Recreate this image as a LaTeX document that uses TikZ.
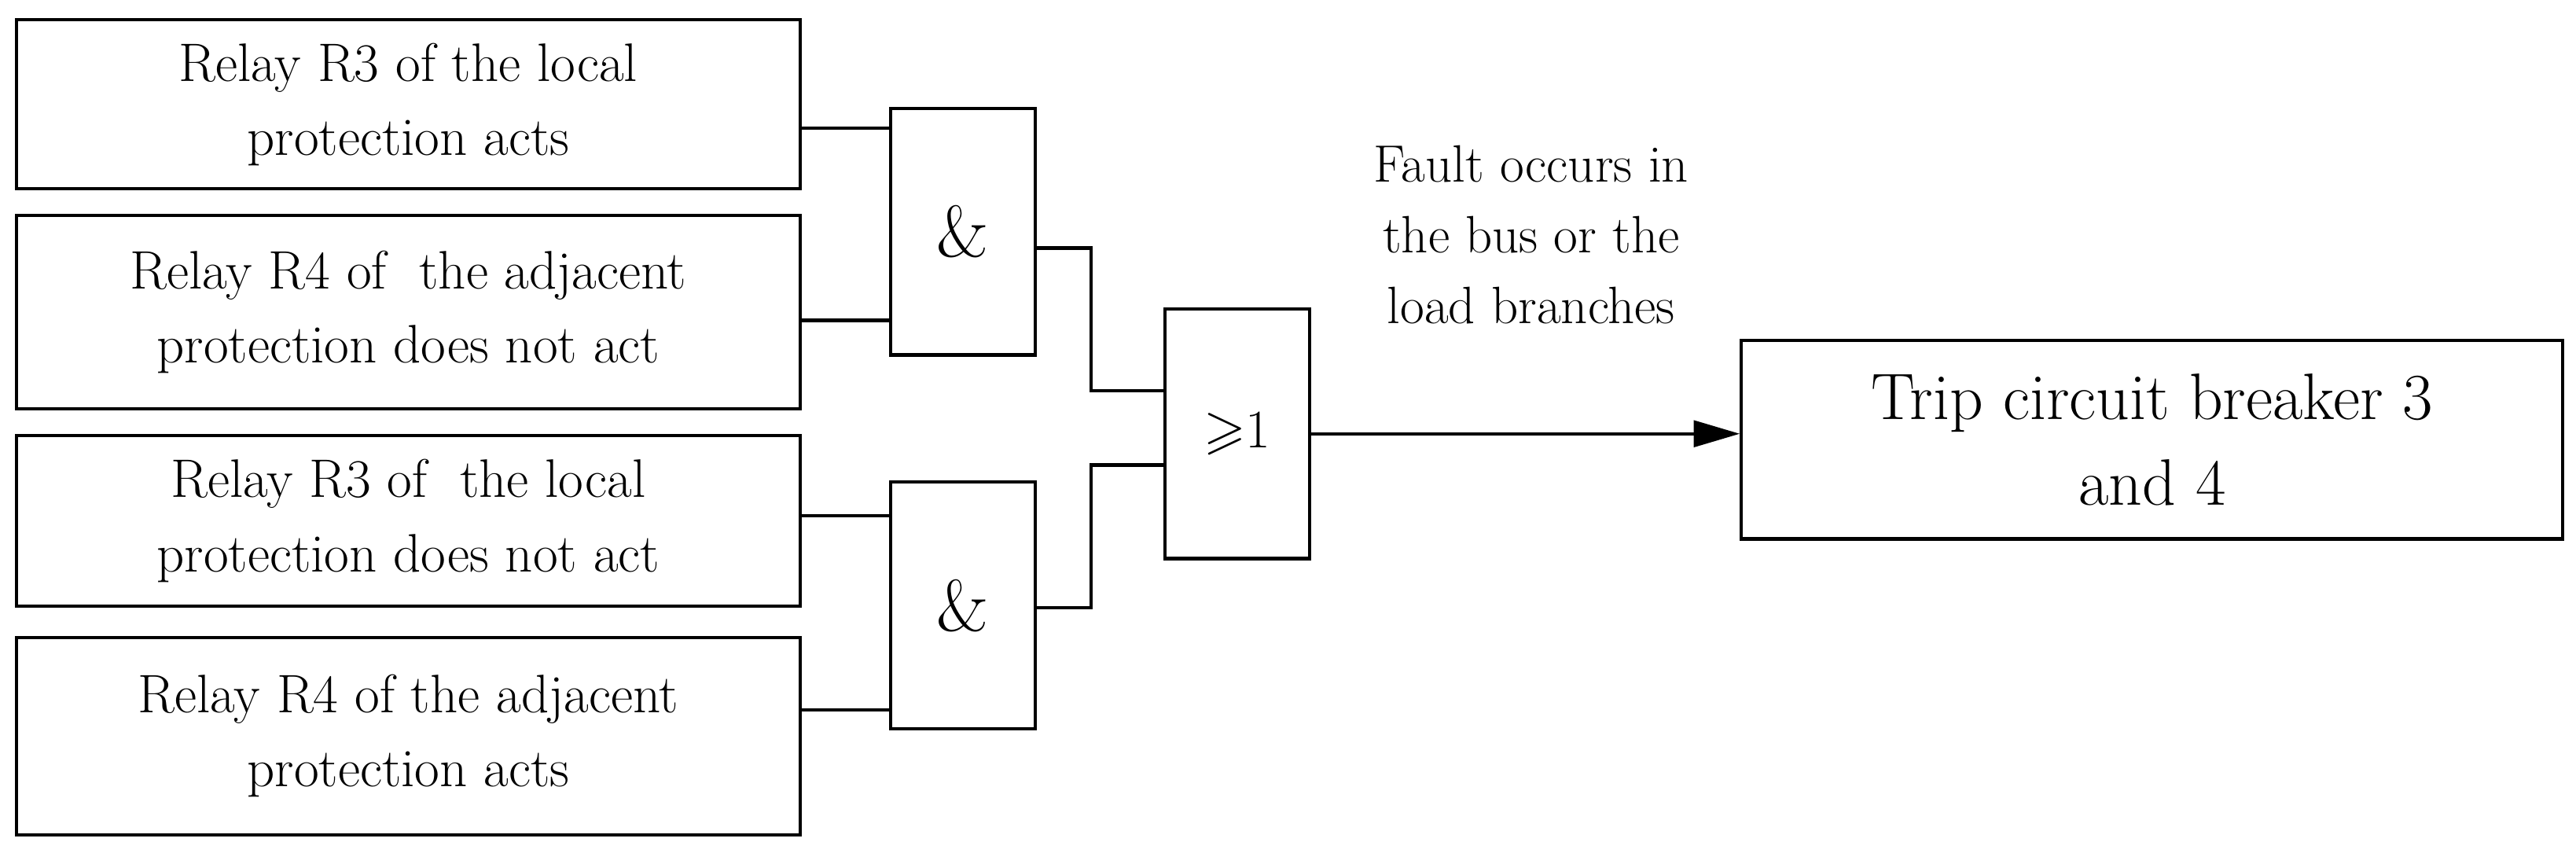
\documentclass[tikz,border=0pt]{standalone}
\usepackage{amssymb}
\usetikzlibrary{arrows.meta}
\begin{document}
\begin{tikzpicture}[x=1pt,y=-1pt,
 box/.style={draw,line width=2pt,align=center,inner sep=0pt,font=\fontsize{33}{45}\selectfont},
 gate/.style={draw,line width=2pt,minimum width=88pt,minimum height=150pt,inner sep=0pt},
 wire/.style={line width=2pt}]
\useasboundingbox (0,0) rectangle (1568,519);
\node[box,minimum width=477pt,minimum height=103pt] (b1) at (248.5,63.5) {Relay R3 of the local\\protection acts};
\node[box,minimum width=477pt,minimum height=118pt] (b2) at (248.5,190) {Relay R4 of\ \ the adjacent\\protection does not act};
\node[box,minimum width=477pt,minimum height=104pt] (b3) at (248.5,317) {Relay R3 of\ \ the local\\protection does not act};
\node[box,minimum width=477pt,minimum height=120pt] (b4) at (248.5,448) {Relay R4 of the adjacent\\protection acts};
\node[gate,font=\fontsize{44}{44}\selectfont] (a1) at (586,141) {\&};
\node[gate,font=\fontsize{44}{44}\selectfont] (a2) at (586,368.5) {\&};
\node[gate,minimum height=152pt,font=\fontsize{33}{33}\selectfont] (or) at (753,264) {$\geqslant$1};
\node[box,minimum width=500pt,minimum height=121pt,font=\fontsize{40}{52}\selectfont] (t) at (1310,267.5) {Trip circuit breaker 3\\and 4};
\node[align=center,font=\fontsize{32}{43}\selectfont] (lab) at (932,143) {Fault occurs in\\the bus or the\\load branches};
\draw[wire] (b1.east|-0,78) -- (a1.west|-0,78);
\draw[wire] (b2.east|-0,195) -- (a1.west|-0,195);
\draw[wire] (b3.east|-0,314) -- (a2.west|-0,314);
\draw[wire] (b4.east|-0,432) -- (a2.west|-0,432);
\draw[wire] (a1.east|-0,151) -- (664,151) -- (664,238) -- (or.west|-0,238);
\draw[wire] (a2.east|-0,370) -- (664,370) -- (664,283) -- (or.west|-0,283);
\draw[wire,-{Triangle[length=28pt,width=16pt]}] (or.east|-0,264) -- (t.west|-0,264);
\end{tikzpicture}
\end{document}
